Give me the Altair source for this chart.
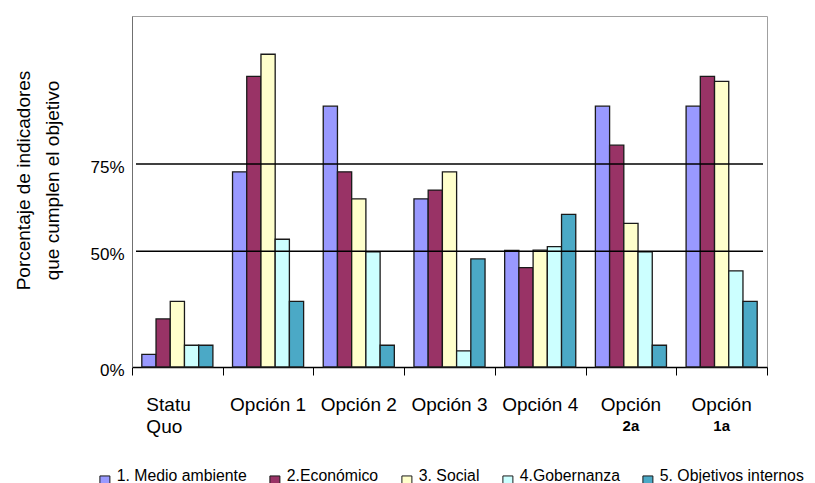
import altair as alt
import pandas as pd

# ---- data (bar heights in % of the plot height) ----
CATEGORIES = ["Statu Quo", "Opción 1", "Opción 2", "Opción 3", "Opción 4", "Opción 2a", "Opción 1a"]
LINE1 = ["Statu", "Opción 1", "Opción 2", "Opción 3", "Opción 4", "Opción", "Opción"]
LINE2 = ["Quo", "", "", "", "", "2a", "1a"]

SERIES = ["1. Medio ambiente", "2.Económico", "3. Social", "4.Gobernanza", "5. Objetivos internos"]
COLORS = ["#9999FF", "#993366", "#FFFFCC", "#CCFFFF", "#4BA9C6"]

MEDIO = [3.6, 55.6, 74.3, 47.9, 33.2, 74.3, 74.3]
ECON = [13.7, 82.8, 55.6, 50.4, 28.3, 63.2, 82.8]
SOCIAL = [18.7, 89.1, 47.9, 55.6, 33.3, 40.9, 81.4]
GOB = [6.2, 36.4, 32.8, 4.6, 34.3, 32.8, 27.4]
OBJ = [6.2, 18.7, 6.2, 30.8, 43.5, 6.2, 18.7]

TICK_VALUES = [0, 33.0, 57.8]
TICK_LABELS = ["0%", "50%", "75%"]

Y_TITLE = ["Porcentaje de indicadores", "que cumplen el objetivo"]

# ---- tables ----
rows = []
for s, vals in zip(SERIES, [MEDIO, ECON, SOCIAL, GOB, OBJ]):
    for c, v in zip(CATEGORIES, vals):
        rows.append({"cat": c, "series": s, "value": v})
df = pd.DataFrame(rows)

lab = pd.DataFrame({"cat": CATEGORIES, "line1": LINE1, "line2": LINE2})
grid_df = pd.DataFrame({"value": TICK_VALUES[1:]})

label_expr = "''"
for v, l in reversed(list(zip(TICK_VALUES, TICK_LABELS))):
    label_expr = f"abs(datum.value - {v}) < 0.5 ? '{l}' : ({label_expr})"

FONT = "Liberation Sans"

x_enc = alt.X(
    "cat:N",
    sort=CATEGORIES,
    scale=alt.Scale(domain=CATEGORIES, paddingInner=0, paddingOuter=0),
    axis=alt.Axis(
        title=None, labels=False, tickBand="extent", tickSize=8,
        tickColor="black", tickWidth=1, domainColor="black", domainWidth=1.5, grid=False,
    ),
)

bars = alt.Chart(df).mark_bar(stroke="#1a1a1a", strokeWidth=1.3).encode(
    x=x_enc,
    xOffset=alt.XOffset(
        "series:N", sort=SERIES,
        scale=alt.Scale(domain=SERIES, paddingInner=0, paddingOuter=0.69),
    ),
    y=alt.Y(
        "value:Q",
        scale=alt.Scale(domain=[0, 100], nice=False, zero=True),
        axis=alt.Axis(
            values=TICK_VALUES, labelExpr=label_expr, grid=False, ticks=False,
            domainColor="#707070", domainWidth=1,
            labelFontSize=17, labelPadding=8, labelColor="black", labelOffset=3,
            title=Y_TITLE, titleFontSize=19, titleFontWeight="normal", titleColor="black",
            titleLineHeight=29, titleAngle=-90, titleBaseline="alphabetic", titleAlign="center",
            titleX=-103, titleY=164,
        ),
    ),
    color=alt.Color(
        "series:N", sort=SERIES,
        scale=alt.Scale(domain=SERIES, range=COLORS),
        legend=alt.Legend(
            title=None, orient="none", direction="horizontal",
            legendX=-35, legendY=457,
            symbolType="square", symbolSize=100, symbolStrokeColor="#1a1a1a",
            symbolStrokeWidth=1, symbolOpacity=1,
            labelFontSize=15.8, labelColor="black", labelOffset=4,
            labelBaseline="alphabetic", columnPadding=20, labelLimit=300,
        ),
    ),
)

rules = alt.Chart(grid_df).mark_rule(color="black", strokeWidth=1.5).encode(
    y="value:Q", x=alt.value(4), x2=alt.value(631)
)

first = CATEGORIES[0]

statu = alt.Chart(lab).transform_filter(alt.datum.cat == first).transform_calculate(
    full="datum.line1 + '\\n' + datum.line2"
).mark_text(
    fontSize=19, align="left", baseline="alphabetic", dx=-31, lineBreak="\n",
    lineHeight=22.6, color="black",
).encode(x=alt.X("cat:N", sort=CATEGORIES), y=alt.value(394.7), text="full:N")

line1 = alt.Chart(lab).transform_filter(alt.datum.cat != first).mark_text(
    fontSize=19, align="center", baseline="alphabetic", color="black",
).encode(x=alt.X("cat:N", sort=CATEGORIES), y=alt.value(394.7), text="line1:N")

line2 = alt.Chart(lab).transform_filter(
    (alt.datum.cat != first) & (alt.datum.line2 != "")
).mark_text(
    fontSize=15, fontWeight="bold", align="center", baseline="alphabetic", color="black",
).encode(x=alt.X("cat:N", sort=CATEGORIES), y=alt.value(414.7), text="line2:N")

chart = alt.layer(bars, rules, statu, line1, line2).properties(
    width=635, height=351,
    padding={"left": 124, "top": 8, "right": 40, "bottom": 120},
    autosize=alt.AutoSizeParams(type="none"),
).configure(font=FONT).configure_view(stroke="#A0A0A0", strokeWidth=1)

chart.save("out.html", embed_options={"renderer": "svg", "actions": False})
